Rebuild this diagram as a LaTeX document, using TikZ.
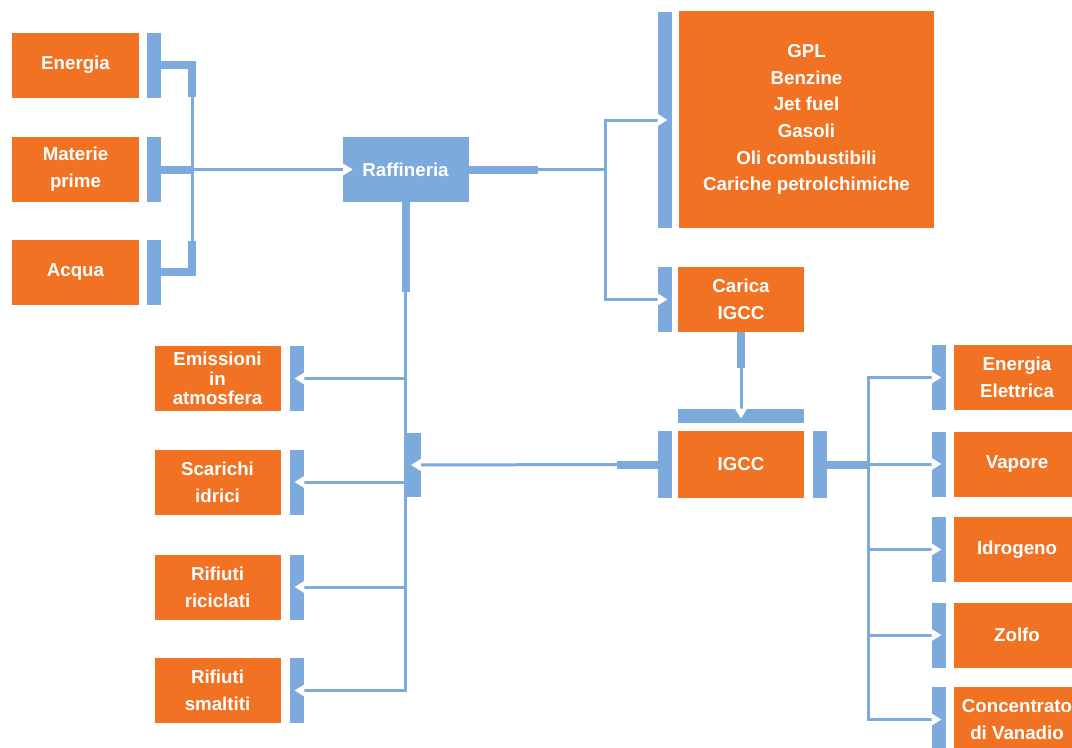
\documentclass[tikz,border=0pt]{standalone}
\usepackage{fontspec}
\setmainfont{Liberation Sans}
\usetikzlibrary{arrows.meta}
\definecolor{arancio}{RGB}{241,114,35}
\definecolor{celeste}{RGB}{124,170,220}

\begin{document}
\begin{tikzpicture}[x=0.25mm, y=-0.25mm,
	box/.style={fill=arancio, text=white, font=\bfseries\fontsize{13.3}{19}\selectfont, align=center, inner sep=0pt, minimum width=31.5mm, minimum height=16.25mm},
	bar/.style={fill=celeste, inner sep=0pt, minimum width=3.5mm, minimum height=16.25mm},
	stub/.style={celeste, line width=2mm},
	link/.style={celeste, line width=0.75mm},
	notch/.style={-{Triangle[color=white, line width=0pt, length=2.4mm, width=3mm]}}]
	\clip (0,0) rectangle (1072,747);

	\node[box] (energia) at (75.5,65) {Energia};
	\node[box] (materie) at (75.5,169.5) {Materie\\prime};
	\node[box] (acqua) at (75.5,272) {Acqua};
	\node[bar] (benergia) at (153.5,65) {};
	\node[bar] (bmaterie) at (153.5,169.5) {};
	\node[bar] (bacqua) at (153.5,272) {};

	\node[box, fill=celeste] (raff) at (405.5,169.5) {Raffineria};

	\node[box, minimum width=63.75mm, minimum height=54.25mm] (prodotti) at (806.5,119.5) {GPL\\Benzine\\Jet fuel\\Gasoli\\Oli combustibili\\Cariche petrolchimiche};
	\node[bar, minimum height=54mm] (bprodotti) at (665,120) {};
	\node[box] (carica) at (741,299.5) {Carica\\IGCC};
	\node[bar] (bcarica) at (665,299.5) {};

	\node[box, minimum height=16.75mm] (igcc) at (741,464.5) {IGCC};
	\node[bar, minimum width=31.5mm, minimum height=3.5mm] (bigccsu) at (741,416) {};
	\node[bar, minimum height=16.75mm] (bigccsx) at (665,464.5) {};
	\node[bar, minimum height=16.75mm] (bigccdx) at (820,464.5) {};

	\node[box, font=\bfseries\fontsize{13.3}{13.8}\selectfont] (emissioni) at (217.5,378.5) {Emissioni\\in\\atmosfera};
	\node[box] (scarichi) at (217.5,482) {Scarichi\\idrici};
	\node[box] (riciclati) at (217.5,587) {Rifiuti\\riciclati};
	\node[box] (smaltiti) at (217.5,690.5) {Rifiuti\\smaltiti};
	\node[bar] (bemissioni) at (297,378.5) {};
	\node[bar] (bscarichi) at (297,482) {};
	\node[bar] (briciclati) at (297,587) {};
	\node[bar] (bsmaltiti) at (297,690.5) {};
	\node[bar, minimum height=16mm] (bcoll) at (413.5,465) {};

	\node[box] (elettrica) at (1017,377.5) {Energia\\Elettrica};
	\node[box] (vapore) at (1017,464) {Vapore};
	\node[box] (idrogeno) at (1017,549.5) {Idrogeno};
	\node[box] (zolfo) at (1017,635) {Zolfo};
	\node[box] (vanadio) at (1017,719.5) {Concentrato\\di Vanadio};
	\node[bar] (belettrica) at (939,377.5) {};
	\node[bar] (bvapore) at (939,464) {};
	\node[bar] (bidrogeno) at (939,549.5) {};
	\node[bar] (bzolfo) at (939,635) {};
	\node[bar] (bvanadio) at (939,719.5) {};

	\coordinate (ja) at (192,97);
	\coordinate (jb) at (192,241);
	\coordinate (jm) at (192,169.5);
	\draw[stub] (benergia.east) -| (ja);
	\draw[stub] (bacqua.east) -| (jb);
	\draw[stub] (bmaterie.east) -- (jm);
	\draw[link] (ja) -- (jb);
	\draw[link, notch] (jm) -- ([xshift=2.6mm]raff.west);

	\coordinate (r1) at (538,169.5);
	\coordinate (r2) at (605,169.5);
	\draw[stub] (raff.east) -- (r1);
	\draw[link] (r1) -- (r2);
	\draw[link, notch] (r2) |- ([xshift=2.4mm]bprodotti.west);
	\draw[link, notch] (r2) |- ([xshift=2.4mm]bcarica.west);

	\coordinate (r3) at (405.5,292);
	\draw[stub] (raff.south) -- (r3);
	\draw[link, notch] (r3) |- ([xshift=-2.4mm]bemissioni.east);
	\draw[link, notch] (r3) |- ([xshift=-2.4mm]bscarichi.east);
	\draw[link, notch] (r3) |- ([xshift=-2.4mm]briciclati.east);
	\draw[link, notch] (r3) |- ([xshift=-2.4mm]bsmaltiti.east);

	\coordinate (c1) at (741,368);
	\draw[stub] (carica.south) -- (c1);
	\draw[link, notch] (c1) -- ([yshift=-2.4mm]bigccsu.north);

	\coordinate (i1) at (617,464.5);
	\draw[stub] (bigccsx.west) -- (i1);
	\draw[link, notch] (i1) -- ([xshift=-2.4mm]bcoll.east);

	\coordinate (i2) at (868,464.5);
	\draw[stub] (bigccdx.east) -- (i2);
	\draw[link, notch] (i2) |- ([xshift=2.4mm]belettrica.west);
	\draw[link, notch] (i2) |- ([xshift=2.4mm]bvapore.west);
	\draw[link, notch] (i2) |- ([xshift=2.4mm]bidrogeno.west);
	\draw[link, notch] (i2) |- ([xshift=2.4mm]bzolfo.west);
	\draw[link, notch] (i2) |- ([xshift=2.4mm]bvanadio.west);
\end{tikzpicture}
\end{document}
